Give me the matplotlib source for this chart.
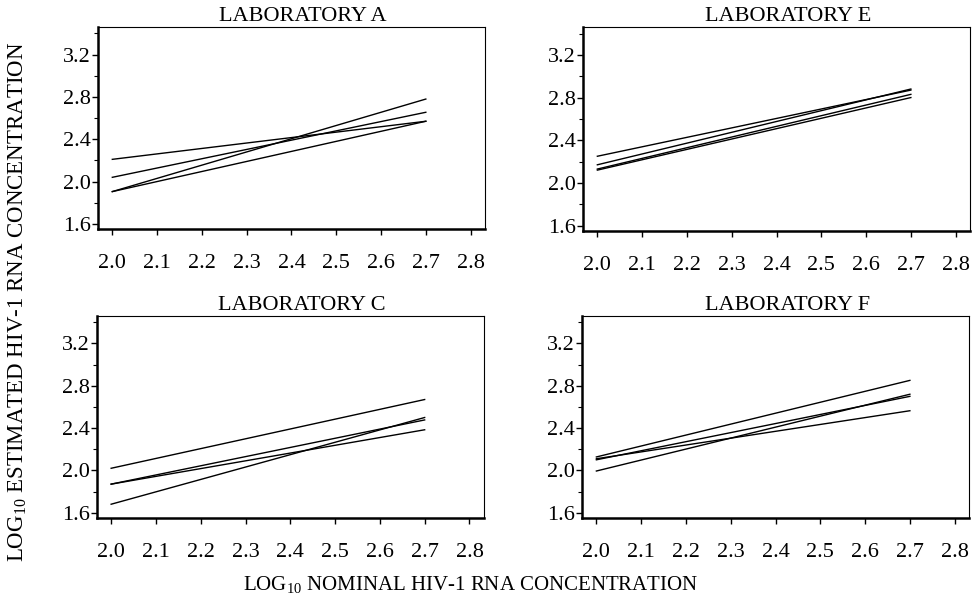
import numpy as np
import matplotlib
matplotlib.use('Agg')
import matplotlib.pyplot as plt
from matplotlib.ticker import MultipleLocator

plt.rcParams['font.family'] = ['Liberation Serif', 'DejaVu Serif']
plt.rcParams['mathtext.fontset'] = 'custom'
plt.rcParams['mathtext.rm'] = 'Liberation Serif'

# regression lines: value at x = 2.0 and at x = 2.7, one pair per run
x_ends = [2.0, 2.7]
labs = ['LABORATORY A', 'LABORATORY E', 'LABORATORY C', 'LABORATORY F']
starts_A = [1.905, 2.21, 2.04, 1.905]
ends_A = [2.78, 2.57, 2.655, 2.57]
starts_E = [2.25, 2.17, 2.13, 2.12]
ends_E = [2.87, 2.88, 2.83, 2.80]
starts_C = [2.02, 1.68, 1.87, 1.87]
ends_C = [2.67, 2.50, 2.477, 2.384]
starts_F = [2.127, 1.994, 2.10, 2.11]
ends_F = [2.851, 2.72, 2.70, 2.564]
xticks = [2.0, 2.1, 2.2, 2.3, 2.4, 2.5, 2.6, 2.7, 2.8]
yticks = [1.6, 2.0, 2.4, 2.8, 3.2]

data = [(starts_A, ends_A), (starts_E, ends_E), (starts_C, ends_C), (starts_F, ends_F)]
# axes boxes in figure fractions [left, bottom, width, height]
boxes = [[0.1007, 0.620, 0.3977, 0.335],
         [0.5992, 0.617, 0.3977, 0.338],
         [0.0995, 0.141, 0.3977, 0.335],
         [0.5982, 0.141, 0.3977, 0.335]]

fig = plt.figure(figsize=(9.73, 6.03), dpi=100)
for lab, (st, en), box in zip(labs, data, boxes):
    ax = fig.add_axes(box)
    for s, e in zip(st, en):
        ax.plot(x_ends, [s, e], color='black', lw=1.0)
    ax.set_xlim(1.968, 2.832)
    ax.set_ylim(1.55, 3.46)
    ax.set_xticks(xticks)
    ax.set_xticklabels([f'{v:.1f}' for v in xticks])
    ax.set_yticks(yticks)
    ax.set_yticklabels([f'{v:.1f}' for v in yticks])
    ax.yaxis.set_minor_locator(MultipleLocator(0.2))
    ax.tick_params(axis='x', direction='out', length=4, width=1.0, pad=14, labelsize=16)
    ax.tick_params(axis='y', which='major', direction='out', length=4, width=1.0, pad=1, labelsize=16)
    ax.tick_params(axis='y', which='minor', direction='out', length=3, width=0.8)
    ax.spines['left'].set_linewidth(1.8)
    ax.spines['bottom'].set_linewidth(1.8)
    ax.spines['top'].set_linewidth(0.8)
    ax.spines['right'].set_linewidth(0.8)
    ax.text(0.53, 1.005, lab, transform=ax.transAxes, ha='center', va='bottom', fontsize=16)

fig.text(0.0185, 0.5, r'LOG$_{10}$ ESTIMATED HIV-1 RNA CONCENTRATION', rotation=90,
         ha='center', va='center', fontsize=16.5)
fig.text(0.484, 0.03, r'LOG$_{10}$ NOMINAL HIV-1 RNA CONCENTRATION',
         ha='center', va='center', fontsize=15)

fig.savefig('out.png', dpi=100)
